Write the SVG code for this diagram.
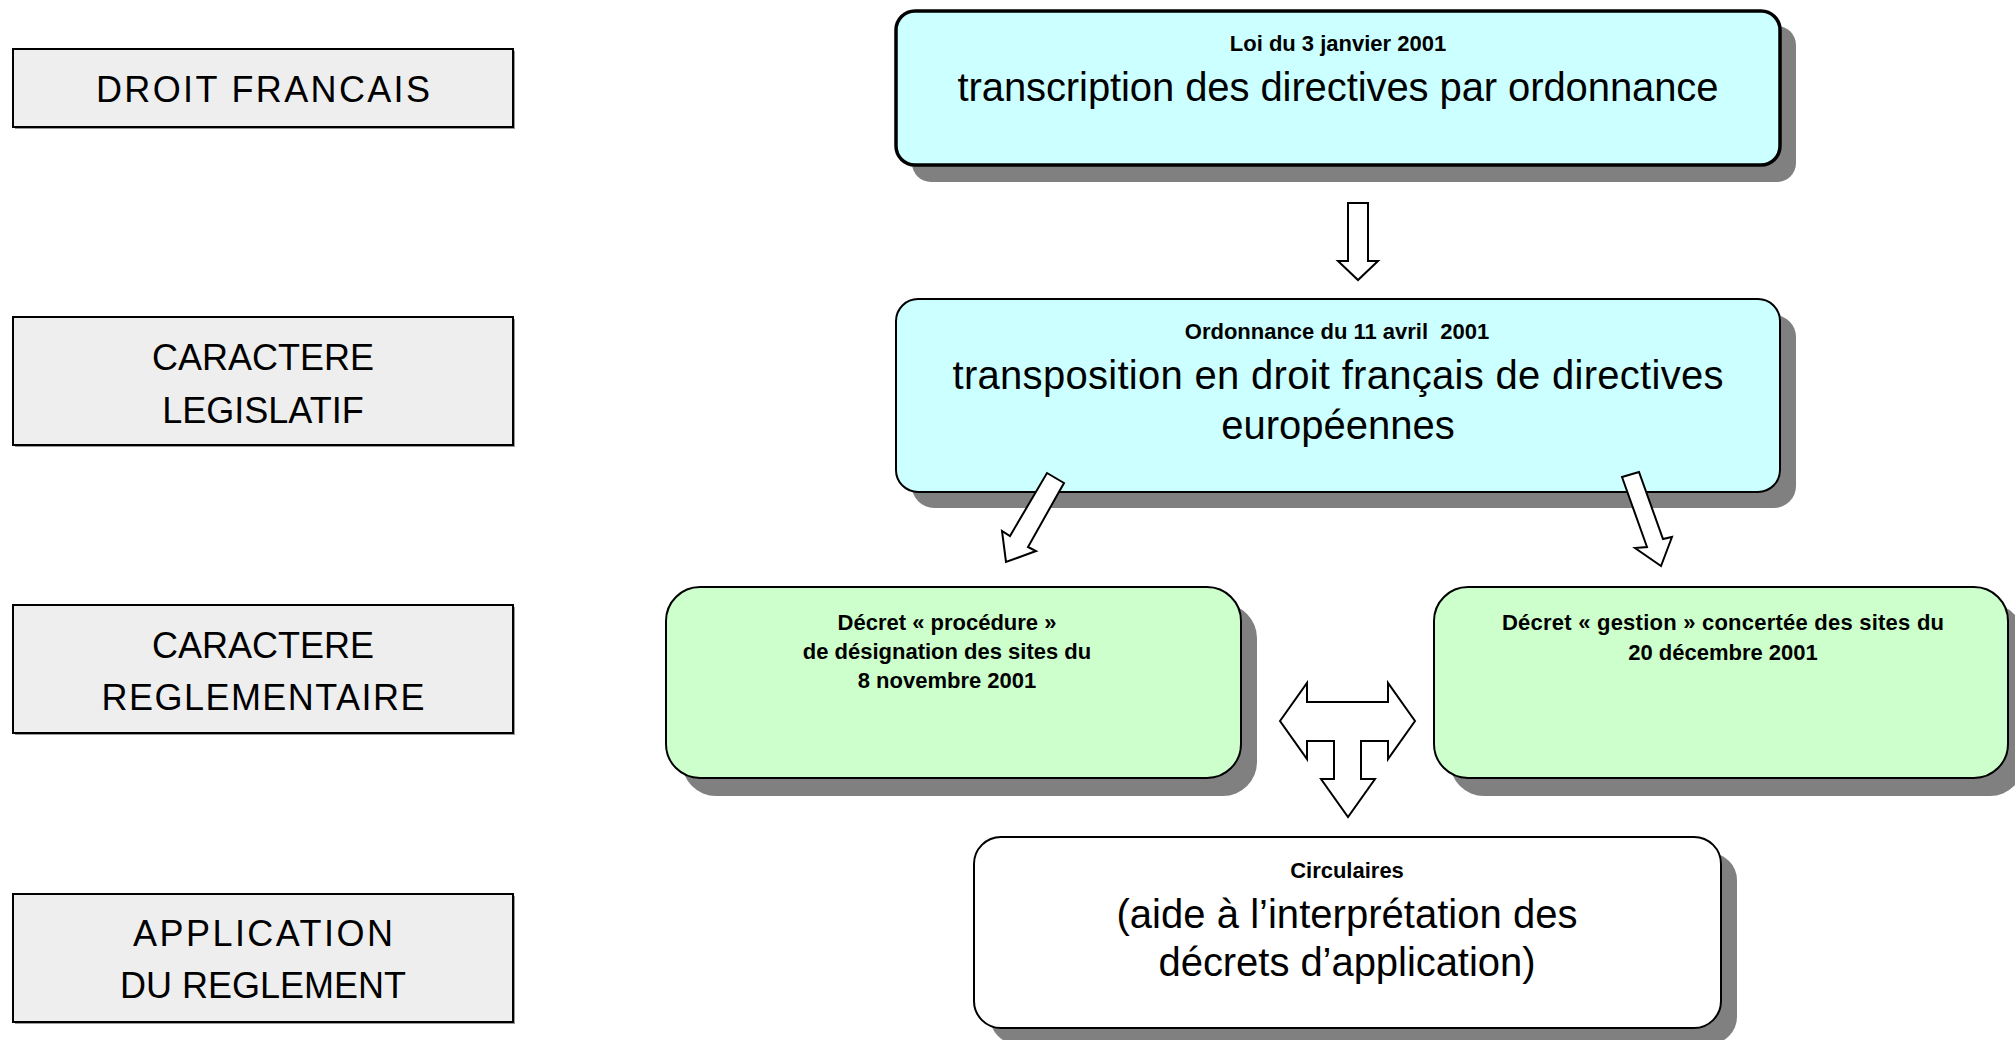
<svg xmlns="http://www.w3.org/2000/svg" width="2015" height="1040" viewBox="0 0 2015 1040">
<defs>
<style>
.lbl{fill:#eeeeee;stroke:#000;stroke-width:2}
.lsh{fill:#9a9a9a}
.sh{fill:#808080}
.blue{fill:#ccffff;stroke:#000;stroke-width:2}
.green{fill:#ccffcc;stroke:#000;stroke-width:2}
.white{fill:#ffffff;stroke:#000;stroke-width:2}
.arr{fill:#ffffff;stroke:#000;stroke-width:2;stroke-linejoin:miter}
text{font-family:"Liberation Sans",Arial,sans-serif;fill:#000;text-anchor:middle}
.big{font-size:40px}
.cap{font-size:36px}
.sm{font-size:22px;font-weight:bold}
</style>
</defs>
<rect width="2015" height="1040" fill="#ffffff"/>

<g id="label-droit">
<rect class="lsh" x="15" y="51" width="500" height="78"/>
<rect class="lbl" x="13" y="49" width="500" height="78"/>
<text class="cap" x="263" y="102" textLength="334">DROIT FRANCAIS</text>
</g>
<g id="label-legislatif">
<rect class="lsh" x="15" y="319" width="500" height="128"/>
<rect class="lbl" x="13" y="317" width="500" height="128"/>
<text class="cap" x="263" y="370">CARACTERE</text>
<text class="cap" x="263" y="423">LEGISLATIF</text>
</g>
<g id="label-reglementaire">
<rect class="lsh" x="15" y="607" width="500" height="128"/>
<rect class="lbl" x="13" y="605" width="500" height="128"/>
<text class="cap" x="263" y="658">CARACTERE</text>
<text class="cap" x="263" y="710" textLength="323">REGLEMENTAIRE</text>
</g>
<g id="label-application">
<rect class="lsh" x="15" y="896" width="500" height="128"/>
<rect class="lbl" x="13" y="894" width="500" height="128"/>
<text class="cap" x="263" y="946" textLength="260">APPLICATION</text>
<text class="cap" x="263" y="998">DU REGLEMENT</text>
</g>

<g id="node-loi">
<rect class="sh" x="912" y="26" width="884" height="156" rx="19"/>
<rect class="blue" style="stroke-width:3.5" x="896" y="11" width="884" height="154" rx="19"/>
<text class="sm" x="1338" y="51">Loi du 3 janvier 2001</text>
<text class="big" x="1338" y="101" textLength="761">transcription des directives par ordonnance</text>
</g>

<g id="node-ordonnance">
<rect class="sh" x="912" y="315" width="884" height="193" rx="22"/>
<rect class="blue" x="896" y="299" width="884" height="193" rx="22"/>
<text class="sm" x="1337" y="339" xml:space="preserve">Ordonnance du 11 avril  2001</text>
<text class="big" x="1338" y="389" textLength="771">transposition en droit français de directives</text>
<text class="big" x="1338" y="439">européennes</text>
</g>

<g id="node-decret-procedure">
<rect class="sh" x="682" y="604" width="575" height="192" rx="34"/>
<rect class="green" x="666" y="587" width="575" height="191" rx="34"/>
<text class="sm" x="947" y="630">Décret « procédure »</text>
<text class="sm" x="947" y="659">de désignation des sites du</text>
<text class="sm" x="947" y="688">8 novembre 2001</text>
</g>

<g id="node-decret-gestion">
<rect class="sh" x="1450" y="604" width="574" height="192" rx="34"/>
<rect class="green" x="1434" y="587" width="574" height="191" rx="34"/>
<text class="sm" x="1723" y="630" textLength="442">Décret « gestion » concertée des sites du</text>
<text class="sm" x="1723" y="660">20 décembre 2001</text>
</g>

<g id="node-circulaires">
<rect class="sh" x="990" y="853" width="747" height="191" rx="27"/>
<rect class="white" x="974" y="837" width="747" height="191" rx="27"/>
<text class="sm" x="1347" y="878">Circulaires</text>
<text class="big" x="1347" y="928" textLength="461">(aide à l’interprétation des</text>
<text class="big" x="1347" y="976" textLength="377">décrets d’application)</text>
</g>

<g id="connectors">
<polygon class="arr" points="1348,203 1368,203 1368,261 1378,261 1358,280 1338,261 1348,261"/>
<polygon class="arr" points="1047,473 1064,483 1028,547 1036,551 1006,562 1002,531 1010,536"/>
<polygon class="arr" points="1622,477 1639,472 1663,539 1672,537 1661,566 1635,548 1647,547"/>
<polygon class="arr" points="1280,721 1307,683 1307,702 1388,702 1388,683 1415,721 1388,759 1388,741 1361,741 1361,779 1375,779 1348,817 1321,779 1334,779 1334,741 1307,741 1307,759"/>
</g>
</svg>
